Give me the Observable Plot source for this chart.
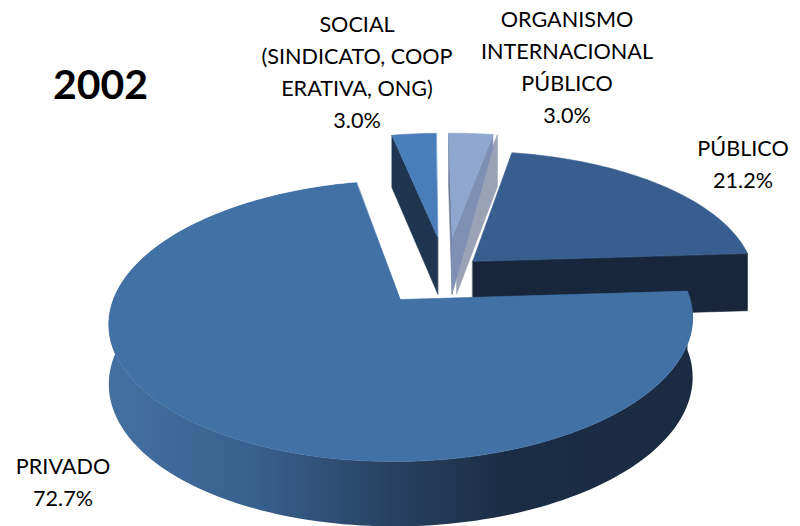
<!DOCTYPE html>
<html><head><meta charset="utf-8">
<script src="https://cdn.jsdelivr.net/npm/d3@7"></script>
<script src="https://cdn.jsdelivr.net/npm/@observablehq/plot@0.6"></script>
<style>html,body{margin:0;padding:0;background:#fff}svg{display:block}</style>
</head><body><div id="chart"></div>
<script>
const categories = ["PRIVADO", "SOCIAL", "ORGANISMO", "PÚBLICO"];
const shares = [72.7, 3.0, 3.0, 21.2];
const explode = [0.258, 0.282, 0.282, 0.13];
const labelText = [
  "PRIVADO\n72.7%",
  "SOCIAL\n(SINDICATO, COOP\nERATIVA, ONG)\n3.0%",
  "ORGANISMO\nINTERNACIONAL\nPÚBLICO\n3.0%",
  "PÚBLICO\n21.2%"
];
const yearTitle = "2002";

// pie geometry in units of the disk radius
const K = 0.153, TILT = 0.03, SHEAR = 0.005, START = -1.8, THICK = 0.43;
const total = d3.sum(shares);
const rad = d => d * Math.PI / 180;
let acc = START;
const slices = categories.map((name, i) => {
  const a0 = acc, a1 = acc + shares[i] / total * 360;
  acc = a1;
  return {name, a0, a1, mid: (a0 + a1) / 2, e: explode[i]};
});
// shared origin: the main slice sits at (0,0)
const main = slices[0];
const ox = -main.e * Math.cos(rad(main.mid)), oy = -main.e * Math.sin(rad(main.mid));
function project(px, py, depth = 0) {
  const w = 1 - K * py;
  const X = px / w, Y = py / w;
  const h = depth * (1 / (1 - 0.09 * py));
  return {x: X + SHEAR * Y, y: Y - TILT * X + h};
}
function disk(s, a) {
  const dx = ox + s.e * Math.cos(rad(s.mid)), dy = oy + s.e * Math.sin(rad(s.mid));
  return [dx + Math.cos(rad(a)), dy + Math.sin(rad(a)), dx, dy];
}
function arcPts(s, a0, a1, depth) {
  const n = Math.max(2, Math.ceil(Math.abs(a1 - a0) / 1.5));
  return d3.range(n + 1).map(i => {
    const [px, py] = disk(s, a0 + (a1 - a0) * i / n);
    return project(px, py, depth);
  });
}
const apex = (s, depth) => { const [, , dx, dy] = disk(s, 0); return project(dx, dy, depth); };
const rim = (s, a, depth) => { const [px, py] = disk(s, a); return project(px, py, depth); };
const topFace = s => [apex(s, 0), ...arcPts(s, s.a0, s.a1, 0)];
const cutFace = (s, a, rimDepth = THICK) => [apex(s, 0), rim(s, a, 0), rim(s, a, rimDepth), apex(s, THICK)];
const outerWall = (s, a0, a1) => [...arcPts(s, a0, a1, 0), ...arcPts(s, a0, a1, THICK).reverse()];

const [sPriv, sSoc, sOrg, sPub] = slices;
const poly = (pts, fill, extra = {}) => Plot.line(pts, {x: "x", y: "y", fill, stroke: fill, strokeWidth: 0.6, curve: "linear-closed", ...extra});

const defs = () => {
  const d = d3.create("svg:defs");
  const g = d.append("linearGradient").attr("id", "wallGrad").attr("gradientUnits", "objectBoundingBox").attr("x1", 0).attr("x2", 1).attr("y1", 0).attr("y2", 0);
  [[0, "#44709f"], [0.25, "#38608e"], [0.5, "#273f5d"], [0.68, "#1b2d45"], [1, "#1a2b42"]].forEach(([o, c]) => g.append("stop").attr("offset", o).attr("stop-color", c));
  return d.node();
};

const labelStyle = {frameAnchor: "top-left", text: d => d, fontSize: 21.6, lineHeight: 1.48, textAnchor: "middle", lineAnchor: "top", fill: "#000"};

const plot = Plot.plot({
  width: 800, height: 526, margin: 0,
  style: {background: "#fff", fontFamily: "Lato, sans-serif"},
  x: {domain: [-1, 1], range: [400 - 288.5, 400 + 288.5], axis: null},
  y: {domain: [-1, 1], range: [299 - 137.2, 299 + 137.2], axis: null},
  marks: [
    defs,
    // Organismo
    poly(cutFace(sOrg, sOrg.a0), "#6f7f9f"),
    poly(cutFace(sOrg, sOrg.a1), "#9aa3b6", {dx: 4.5}),
    poly(cutFace(sOrg, sOrg.a1, 0.11), "#7f90b5"),
    poly(topFace(sOrg), "#8fa6cf"),
    // Público
    poly(cutFace(sPub, sPub.a1), "#17263a"),
    poly(topFace(sPub), "#375e8e"),
    // Social
    poly(cutFace(sSoc, sSoc.a0), "#1f3550"),
    poly(topFace(sSoc), "#4a7ebb"),
    // Privado
    poly(outerWall(sPriv, sPriv.a0, sPriv.a1), "url(#wallGrad)", {stroke: null}),
    poly(topFace(sPriv), "#4271a6"),
    // text
    Plot.text([yearTitle], {frameAnchor: "top-left", dx: 52.5, dy: 69, text: d => d, fontSize: 41, fontWeight: 700, textAnchor: "start", lineAnchor: "top", fill: "#000"}),
    Plot.text([labelText[0]], {...labelStyle, dx: 62.5, dy: 451}),
    Plot.text([labelText[1]], {...labelStyle, dx: 356.5, dy: 8.5}),
    Plot.text([labelText[2]], {...labelStyle, dx: 566.5, dy: 4}),
    Plot.text([labelText[3]], {...labelStyle, dx: 742.5, dy: 133})
  ]
});
document.getElementById("chart").append(plot);
</script></body></html>
